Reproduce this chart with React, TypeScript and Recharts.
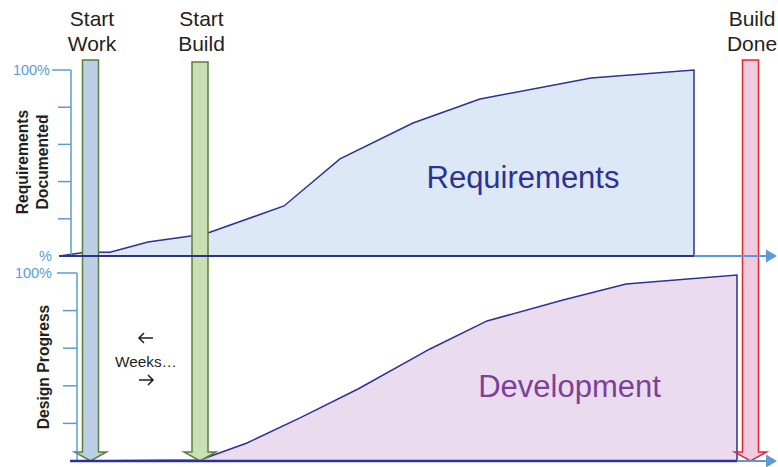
import React from 'react';
import { ComposedChart, Area, XAxis, YAxis, ReferenceLine, ReferenceArea, ReferenceDot } from 'recharts';

// ---- data (x in weeks, y in % complete) ----
const reqWeeks = [0, 2.5, 5, 8.8, 14.5, 22.4, 28, 35.3, 42, 53.1, 63.4, 63.4];
const reqValues = [0, 2, 2, 7.5, 11.8, 26.9, 52.2, 71.5, 84.4, 95.7, 100, 0];
const devWeeks = [1, 14, 18.7, 24, 29.8, 37, 42.7, 50.3, 56.6, 67.7, 67.7];
const devValues = [0, 0.5, 9.6, 22.9, 38.3, 59.6, 74.5, 85.6, 94.1, 98.9, 0];
const milestoneTop = ['Start', 'Start', 'Build'];
const milestoneBottom = ['Work', 'Build', 'Done'];
const milestoneWeeks = [3.05, 14, 69.05];
const milestoneTopValues = [213.3, 212.2, 213.3];
const yTicks = [20, 40, 60, 80, 100];
const topTickLabels = ['%', '100%'];
const bottomTickLabels = ['100%'];
const seriesNames = ['Requirements', 'Development'];
const axisTitles = [['Requirements', 'Documented'], ['Design Progress']];
const weeksLabel = 'Weeks…';

const reqData = reqWeeks.map((w, i) => ({ w, v: reqValues[i] }));
const devData = devWeeks.map((w, i) => ({ w, v: devValues[i] }));

// ---- layout / style constants ----
const W = 778;
const H = 467;
const X_DOMAIN: [number, number] = [-6, 71.8];
const REQ_DOMAIN: [number, number] = [-113.44, 137.63];
const DEV_DOMAIN: [number, number] = [-3.19, 245.21];
const REQ_AXIS_W = 1.1;
const DEV_AXIS_W = 1.7;
const REQ_END_W = 63.4;
const DEV_END_W = 67.7;
const ARROW_END_W = 70.6;
const ARROW_TIP_W = 71.7;
const LABEL_ANCHOR = 213.3;

const NAVY = '#2e3192';
const AXIS_BLUE = '#5b9bd5';
const TEXT = '#231f20';
const FONT = '"Liberation Sans", Arial, Helvetica, sans-serif';
const milestoneFill = ['#bccfe7', '#c8e0b4', '#f0cadf'];
const milestoneStroke = ['#5b7f3b', '#5b7f3b', '#e3262f'];

const arrowShape = (fill: string, stroke: string) => (p: any) => {
  const { x, y, width, height } = p;
  const head = 9;
  const ext = 8;
  const yb = y + height;
  const yh = yb - head;
  const cx = x + width / 2;
  const pts = [
    [x, y], [x + width, y], [x + width, yh], [x + width + ext, yh],
    [cx, yb], [x - ext, yh], [x, yh],
  ].map((q) => q.join(',')).join(' ');
  return <polygon points={pts} fill={fill} stroke={stroke} strokeWidth={1.5} strokeLinejoin="miter" />;
};

const axisArrowHead = (p: any) => {
  const { cx, cy } = p;
  return <polygon points={`${cx},${cy} ${cx - 11},${cy - 6.5} ${cx - 11},${cy + 6.5}`} fill={AXIS_BLUE} />;
};

const tickLabel = (text: string, dx: number) => (p: any) => (
  <text x={p.cx + dx} y={p.cy} textAnchor="end" dominantBaseline="central" fontFamily={FONT} fontSize={14.5} fill={AXIS_BLUE}>
    {text}
  </text>
);

export default function App() {
  return (
    <div style={{ position: 'absolute', left: 0, top: 0, width: W, height: H, background: '#fff' }}>
      <ComposedChart width={W} height={H} margin={{ top: 0, right: 0, bottom: 0, left: 0 }}>
        <XAxis type="number" dataKey="w" domain={X_DOMAIN} allowDataOverflow hide />
        <YAxis yAxisId="req" type="number" domain={REQ_DOMAIN} allowDataOverflow hide />
        <YAxis yAxisId="dev" type="number" domain={DEV_DOMAIN} allowDataOverflow hide />

        <Area yAxisId="req" data={reqData} dataKey="v" type="linear" stroke={NAVY} strokeWidth={1.5} fill="#dce8f5" fillOpacity={1} dot={false} activeDot={false} isAnimationActive={false} />
        <Area yAxisId="dev" data={devData} dataKey="v" type="linear" stroke={NAVY} strokeWidth={1.5} fill="#eadcee" fillOpacity={1} dot={false} activeDot={false} isAnimationActive={false} />

        {/* top axis */}
        <ReferenceLine yAxisId="req" segment={[{ x: REQ_AXIS_W, y: 0 }, { x: REQ_AXIS_W, y: 100 }]} stroke={AXIS_BLUE} strokeWidth={1.5} />
        {yTicks.map((t) => (
          <ReferenceLine key={'rt' + t} yAxisId="req" segment={[{ x: t === 100 ? -0.8 : -0.2, y: t }, { x: REQ_AXIS_W, y: t }]} stroke={AXIS_BLUE} strokeWidth={1.5} />
        ))}
        <ReferenceLine yAxisId="req" segment={[{ x: REQ_END_W, y: 0 }, { x: ARROW_END_W, y: 0 }]} stroke={AXIS_BLUE} strokeWidth={2} />
        <ReferenceLine yAxisId="req" segment={[{ x: -0.1, y: 0 }, { x: REQ_END_W, y: 0 }]} stroke={NAVY} strokeWidth={2} />

        {/* bottom axis */}
        <ReferenceLine yAxisId="dev" segment={[{ x: DEV_AXIS_W, y: 0 }, { x: DEV_AXIS_W, y: 100 }]} stroke={AXIS_BLUE} strokeWidth={1.5} />
        {yTicks.map((t) => (
          <ReferenceLine key={'dt' + t} yAxisId="dev" segment={[{ x: t === 100 ? -0.3 : 0.3, y: t }, { x: DEV_AXIS_W, y: t }]} stroke={AXIS_BLUE} strokeWidth={1.5} />
        ))}
        <ReferenceLine yAxisId="dev" segment={[{ x: DEV_END_W, y: 0 }, { x: ARROW_END_W, y: 0 }]} stroke={AXIS_BLUE} strokeWidth={2} />
        <ReferenceLine yAxisId="dev" segment={[{ x: 1, y: 0 }, { x: DEV_END_W, y: 0 }]} stroke={NAVY} strokeWidth={2.5} />

        <ReferenceDot yAxisId="req" x={ARROW_TIP_W} y={0} r={1} shape={axisArrowHead} />
        <ReferenceDot yAxisId="dev" x={ARROW_TIP_W} y={0} r={1} shape={axisArrowHead} />

        {/* milestones */}
        {milestoneWeeks.map((w, i) => (
          <ReferenceArea key={'m' + i} yAxisId="dev" x1={w - 0.8} x2={w + 0.8} y1={0} y2={milestoneTopValues[i]}
            shape={arrowShape(milestoneFill[i], milestoneStroke[i])} />
        ))}
        {milestoneWeeks.map((w, i) => (
          <ReferenceDot key={'ml' + i} yAxisId="dev" x={w} y={LABEL_ANCHOR} r={1}
            shape={(p: any) => (
              <text x={p.cx + 1.5} textAnchor="middle" fontFamily={FONT} fontSize={21} fill={TEXT}>
                <tspan x={p.cx + 1.5} y={p.cy - 34}>{milestoneTop[i]}</tspan>
                <tspan x={p.cx + 1.5} y={p.cy - 9}>{milestoneBottom[i]}</tspan>
              </text>
            )} />
        ))}

        {/* tick labels */}
        <ReferenceDot yAxisId="req" x={REQ_AXIS_W} y={100} r={1} shape={tickLabel(topTickLabels[1], -21)} />
        <ReferenceDot yAxisId="req" x={REQ_AXIS_W} y={0} r={1} shape={tickLabel(topTickLabels[0], -19)} />
        <ReferenceDot yAxisId="dev" x={DEV_AXIS_W} y={100} r={1} shape={tickLabel(bottomTickLabels[0], -25)} />

        {/* axis titles */}
        <ReferenceDot yAxisId="req" x={REQ_AXIS_W} y={50} r={1}
          shape={(p: any) => (
            <g fontFamily={FONT} fontSize={15.7} fontWeight="bold" fill={TEXT}>
              <text transform={`translate(${p.cx - 43},${p.cy - 1}) rotate(-90)`} textAnchor="middle">{axisTitles[0][0]}</text>
              <text transform={`translate(${p.cx - 23},${p.cy - 1}) rotate(-90)`} textAnchor="middle">{axisTitles[0][1]}</text>
            </g>
          )} />
        <ReferenceDot yAxisId="dev" x={DEV_AXIS_W} y={50} r={1}
          shape={(p: any) => (
            <text transform={`translate(${p.cx - 28},${p.cy}) rotate(-90)`} textAnchor="middle" fontFamily={FONT} fontSize={15.7} fontWeight="bold" fill={TEXT}>
              {axisTitles[1][0]}
            </text>
          )} />

        {/* weeks annotation */}
        <ReferenceDot yAxisId="dev" x={8.6} y={52.7} r={1}
          shape={(p: any) => {
            const { cx, cy } = p;
            return (
              <g>
                <path d={`M${cx - 7},${cy - 24} H${cx + 7} M${cx - 2},${cy - 29} L${cx - 7},${cy - 24} L${cx - 2},${cy - 19}`} stroke={TEXT} strokeWidth={1.5} fill="none" />
                <text x={cx} y={cy + 5} textAnchor="middle" fontFamily={FONT} fontSize={15.3} fill={TEXT}>{weeksLabel}</text>
                <path d={`M${cx - 7},${cy + 18} H${cx + 7} M${cx + 2},${cy + 13} L${cx + 7},${cy + 18} L${cx + 2},${cy + 23}`} stroke={TEXT} strokeWidth={1.5} fill="none" />
              </g>
            );
          }} />

        {/* series labels */}
        <ReferenceDot yAxisId="req" x={46.3} y={36.6} r={1}
          shape={(p: any) => (
            <text x={p.cx} y={p.cy} textAnchor="middle" fontFamily={FONT} fontSize={31} fill={NAVY}>{seriesNames[0]}</text>
          )} />
        <ReferenceDot yAxisId="dev" x={50.95} y={34.0} r={1}
          shape={(p: any) => (
            <text x={p.cx} y={p.cy} textAnchor="middle" fontFamily={FONT} fontSize={31} fill="#7d3f98">{seriesNames[1]}</text>
          )} />
      </ComposedChart>
    </div>
  );
}
